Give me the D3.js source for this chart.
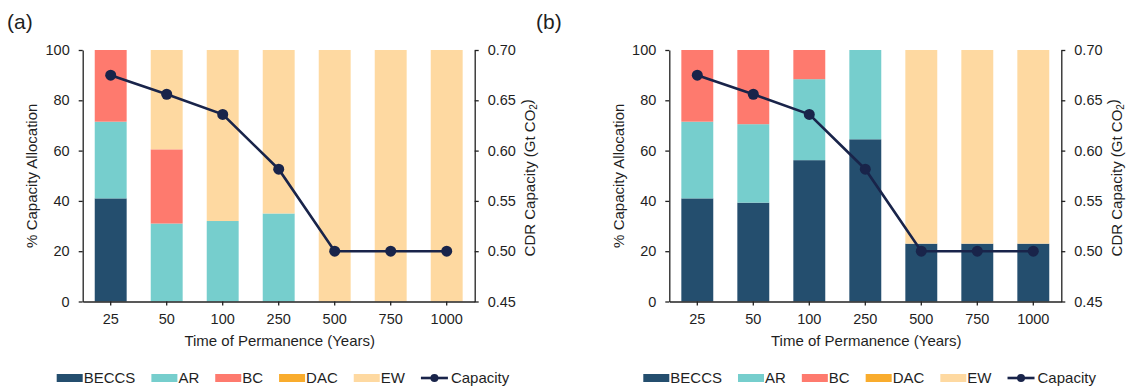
<!DOCTYPE html>
<html>
<head>
<meta charset="utf-8">
<script src="https://cdn.jsdelivr.net/npm/d3@7"></script>
<style>
  body { margin: 0; background: #fff; }
  svg text { font-family: "Liberation Sans", Arial, sans-serif; fill: #1f1f1f; }
</style>
</head>
<body>
<script>
// categories
var years = ['25', '50', '100', '250', '500', '750', '1000'];
var techs = ['BECCS', 'AR', 'BC', 'DAC', 'EW'];

// panel (a) % capacity allocation
var beccsA = [41, 0, 0, 0, 0, 0, 0];
var arA    = [30.5, 31, 32, 35, 0, 0, 0];
var bcA    = [28.5, 29.5, 0, 0, 0, 0, 0];
var dacA   = [0, 0, 0, 0, 0, 0, 0];
var ewA    = [0, 39.5, 68, 65, 100, 100, 100];

// panel (b) % capacity allocation
var beccsB = [41, 39.3, 56.2, 64.5, 23, 23, 23];
var arB    = [30.5, 31.2, 32.2, 35.5, 0, 0, 0];
var bcB    = [28.5, 29.5, 11.6, 0, 0, 0, 0];
var dacB   = [0, 0, 0, 0, 0, 0, 0];
var ewB    = [0, 0, 0, 0, 77, 77, 77];

// CDR capacity (Gt CO2), same in both panels
var capacity = [0.675, 0.656, 0.636, 0.5815, 0.50, 0.50, 0.50];

// tick labels
var allocTicks = [0, 20, 40, 60, 80, 100];
var capTicks = [0.45, 0.50, 0.55, 0.60, 0.65, 0.70];

var colors = {
  BECCS: '#244e6e',
  AR: '#76cecd',
  BC: '#fe7a6e',
  DAC: '#f9ac2d',
  EW: '#fed9a1'
};
var lineColor = '#19244a';

var scr = { w: 1127, h: 387 };
var svg = d3.select('body')
            .append('svg')
            .attr('width', scr.w)
            .attr('height', scr.h);

var makeRows = function(beccs, ar, bc, dac, ew) {
  return years.map(function(y, i) {
    return { year: y, BECCS: beccs[i], AR: ar[i], BC: bc[i], DAC: dac[i], EW: ew[i] };
  });
};

var drawPanel = function(left, rows, label, labelX) {
  var plot = { x0: left, x1: left + 392, top: 50, bottom: 301.5 };
  var g = svg.append('g').classed('panel', true);

  var xScale = d3.scaleBand()
                 .domain(years)
                 .range([plot.x0, plot.x1])
                 .paddingInner(0.43)
                 .paddingOuter(0.215);
  var yScale = d3.scaleLinear()
                 .domain([0, 100])
                 .range([plot.bottom, plot.top]);
  var capScale = d3.scaleLinear()
                   .domain([0.45, 0.70])
                   .range([plot.bottom, plot.top]);

  var stacked = d3.stack().keys(techs)(rows);

  g.selectAll('g.layer')
   .data(stacked)
   .enter()
   .append('g')
   .classed('layer', true)
   .attr('fill', function(d) { return colors[d.key]; })
   .selectAll('rect')
   .data(function(d) { return d; })
   .enter()
   .append('rect')
   .attr('x', function(d) { return xScale(d.data.year); })
   .attr('y', function(d) { return yScale(d[1]); })
   .attr('width', xScale.bandwidth())
   .attr('height', function(d) { return yScale(d[0]) - yScale(d[1]); });

  // axes
  var yAxis = d3.axisLeft(yScale).tickValues(allocTicks).tickSize(4).tickSizeOuter(0).tickPadding(9);
  var capAxis = d3.axisRight(capScale).tickValues(capTicks).tickSize(4).tickSizeOuter(0).tickPadding(9)
                  .tickFormat(d3.format('.2f'));
  var xAxis = d3.axisBottom(xScale).tickSize(4).tickSizeOuter(0).tickPadding(8);

  var axes = [
    g.append('g').attr('transform', 'translate(' + plot.x0 + ',0)').call(yAxis),
    g.append('g').attr('transform', 'translate(' + plot.x1 + ',0)').call(capAxis),
    g.append('g').attr('transform', 'translate(0,' + plot.bottom + ')').call(xAxis)
  ];
  axes.forEach(function(a) {
    a.selectAll('path, line').attr('stroke', '#222').attr('stroke-width', 1.3);
    a.selectAll('text').style('font-size', '14.5px').attr('fill', '#1f1f1f');
  });

  // capacity line
  var cx = function(d, i) { return xScale(years[i]) + xScale.bandwidth() / 2; };
  var line = d3.line()
               .x(function(d, i) { return cx(d, i); })
               .y(function(d) { return capScale(d); });
  g.append('path')
   .datum(capacity)
   .attr('d', line)
   .attr('fill', 'none')
   .attr('stroke', lineColor)
   .attr('stroke-width', 2.6);
  g.selectAll('circle.cap')
   .data(capacity)
   .enter()
   .append('circle')
   .classed('cap', true)
   .attr('cx', cx)
   .attr('cy', function(d) { return capScale(d); })
   .attr('r', 5.5)
   .attr('fill', lineColor);

  // axis titles
  var midY = (plot.top + plot.bottom) / 2;
  g.append('text')
   .attr('transform', 'translate(' + (plot.x0 - 51) + ',' + midY + ') rotate(-90)')
   .attr('text-anchor', 'middle')
   .attr('dy', '0.35em')
   .style('font-size', '15px')
   .text('% Capacity Allocation');
  var rt = g.append('text')
   .attr('transform', 'translate(' + (plot.x1 + 55) + ',' + (midY + 2) + ') rotate(-90)')
   .attr('text-anchor', 'middle')
   .attr('dy', '0.35em')
   .style('font-size', '15px');
  rt.append('tspan').text('CDR Capacity (Gt CO');
  rt.append('tspan').attr('dy', '0.25em').style('font-size', '10px').text('2');
  rt.append('tspan').attr('dy', '-0.38em').text(')');

  g.append('text')
   .attr('x', (plot.x0 + plot.x1) / 2 + 1)
   .attr('y', 346)
   .attr('text-anchor', 'middle')
   .style('font-size', '15px')
   .text('Time of Permanence (Years)');

  // panel label
  g.append('text')
   .attr('x', labelX)
   .attr('y', 29)
   .style('font-size', '21px')
   .text(label);

  // legend
  var legend = g.append('g').attr('transform', 'translate(' + (plot.x0 - 26) + ',378)');
  var xPos = 0;
  techs.concat(['Capacity']).forEach(function(k) {
    var item = legend.append('g').attr('transform', 'translate(' + xPos + ',0)');
    if (k === 'Capacity') {
      item.append('line').attr('x1', 0).attr('x2', 27).attr('y1', 0).attr('y2', 0)
          .attr('stroke', lineColor).attr('stroke-width', 2.6);
      item.append('circle').attr('cx', 13.5).attr('cy', 0).attr('r', 4).attr('fill', lineColor);
    } else {
      item.append('rect').attr('x', 0).attr('y', -4).attr('width', 26).attr('height', 8)
          .attr('fill', colors[k]);
    }
    var t = item.append('text')
                .attr('x', k === 'Capacity' ? 30 : 27)
                .attr('dy', '0.35em')
                .style('font-size', '15px')
                .text(k);
    xPos += (k === 'Capacity' ? 30 : 27) + t.node().getComputedTextLength() + 16;
  });
};

drawPanel(82.7, makeRows(beccsA, arA, bcA, dacA, ewA), '(a)', 7);
drawPanel(669.3, makeRows(beccsB, arB, bcB, dacB, ewB), '(b)', 536);
</script>
</body>
</html>
